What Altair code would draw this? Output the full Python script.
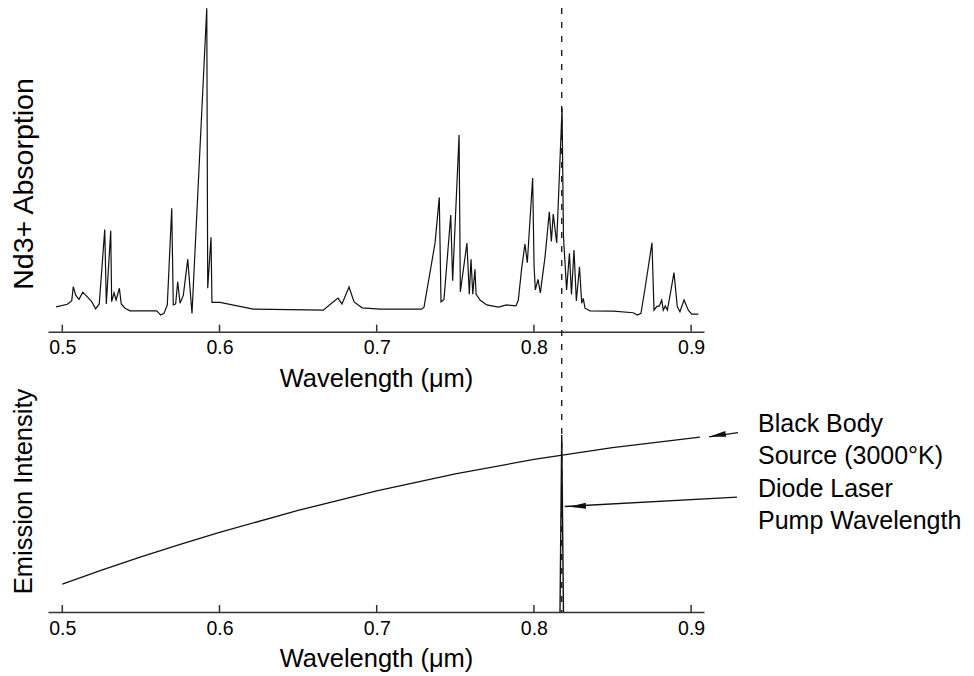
import altair as alt
import pandas as pd

FONT = "Liberation Sans"
INK = "#111111"
AXC = "#333333"

# ---------------- data ----------------
x_ticks = [0.5, 0.6, 0.7, 0.8, 0.9]

abs_lam = [0.4960, 0.5032, 0.5060, 0.5070, 0.5085, 0.5106, 0.5130, 0.5155, 0.5187, 0.5212,
           0.5235, 0.5270, 0.5280, 0.5308, 0.5314, 0.5329, 0.5342, 0.5363, 0.5375, 0.5399,
           0.5431, 0.5601, 0.5626, 0.5647, 0.5668, 0.5696, 0.5706, 0.5721, 0.5734, 0.5749,
           0.5770, 0.5798, 0.5825, 0.5919, 0.5925, 0.5946, 0.5952, 0.6003, 0.6215, 0.6660,
           0.6722, 0.6754, 0.6779, 0.6824, 0.6856, 0.6907, 0.7021, 0.7286, 0.7301, 0.7371,
           0.7398, 0.7409, 0.7428, 0.7471, 0.7483, 0.7524, 0.7532, 0.7574, 0.7589, 0.7600,
           0.7611, 0.7625, 0.7632, 0.7657, 0.7700, 0.7774, 0.7827, 0.7886, 0.7901, 0.7922,
           0.7943, 0.7958, 0.7992, 0.8001, 0.8009, 0.8026, 0.8041, 0.8071, 0.8098, 0.8111,
           0.8123, 0.8145, 0.8179, 0.8188, 0.8208, 0.8226, 0.8239, 0.8255, 0.8270, 0.8290,
           0.8304, 0.8314, 0.8325, 0.8357, 0.8505, 0.8632, 0.8658, 0.8681, 0.8707, 0.8751,
           0.8764, 0.8781, 0.8798, 0.8813, 0.8823, 0.8836, 0.8849, 0.8870, 0.8891, 0.8912,
           0.8929, 0.8955, 0.8982, 0.9004, 0.9046]
abs_val = [0.076, 0.084, 0.095, 0.138, 0.112, 0.099, 0.121, 0.109, 0.092, 0.070,
           0.085, 0.313, 0.085, 0.309, 0.092, 0.119, 0.097, 0.133, 0.085, 0.072,
           0.064, 0.064, 0.051, 0.056, 0.082, 0.378, 0.082, 0.085, 0.153, 0.087,
           0.112, 0.222, 0.056, 0.990, 0.133, 0.289, 0.090, 0.090, 0.069, 0.066,
           0.091, 0.103, 0.085, 0.137, 0.091, 0.073, 0.069, 0.069, 0.075, 0.271,
           0.411, 0.091, 0.099, 0.357, 0.156, 0.602, 0.122, 0.271, 0.115, 0.222,
           0.115, 0.191, 0.115, 0.097, 0.082, 0.075, 0.082, 0.079, 0.097, 0.194,
           0.268, 0.211, 0.470, 0.201, 0.128, 0.160, 0.119, 0.230, 0.367, 0.276,
           0.360, 0.272, 0.684, 0.291, 0.128, 0.240, 0.114, 0.250, 0.094, 0.199,
           0.087, 0.102, 0.072, 0.064, 0.063, 0.058, 0.051, 0.056, 0.133, 0.272,
           0.066, 0.077, 0.079, 0.097, 0.066, 0.079, 0.066, 0.122, 0.181, 0.077,
           0.061, 0.097, 0.066, 0.054, 0.054]

bb_lam = [0.500, 0.525, 0.550, 0.575, 0.600, 0.650, 0.700, 0.750, 0.800, 0.850, 0.9056]
bb_val = [0.158, 0.236, 0.312, 0.382, 0.450, 0.574, 0.684, 0.780, 0.862, 0.929, 0.988]

laser_lam = [0.8166, 0.8177, 0.8188]
laser_val = [0.0, 1.0, 0.0]

pump_lam = [0.8177]

arrow_id = ["bb", "bb", "laser", "laser"]
arrow_k = [0, 1, 0, 1]
arrow_lam = [0.9298, 0.9114, 0.9292, 0.8196]
arrow_val = [1.013, 0.990, 0.649, 0.596]

head_lam = [0.9167, 0.8277]
head_val = [0.998, 0.598]
head_angle = [350.2, 356.8]

label_bb = "Black Body\nSource (3000°K)"
label_laser = "Diode Laser\nPump Wavelength"
x_title = "Wavelength (μm)"
y_title_top = "Nd3+ Absorption"
y_title_bottom = "Emission Intensity"

df_abs = pd.DataFrame({"lam": abs_lam, "A": abs_val})
df_ticks = pd.DataFrame({"lam": x_ticks})
df_bb = pd.DataFrame({"lam": bb_lam, "E": bb_val})
df_laser = pd.DataFrame({"lam": laser_lam, "E": laser_val})
df_pump = pd.DataFrame({"lam": pump_lam})
df_arrow = pd.DataFrame({"id": arrow_id, "k": arrow_k, "lam": arrow_lam, "E": arrow_val})
df_head = pd.DataFrame({"lam": head_lam, "E": head_val, "ang": head_angle})
df_one = pd.DataFrame({"k": [0]})

# ---------------- layout ----------------
W, H = 656, 604
TOP_AXIS = 323.7
BOT_AXIS = 604

x_scale = alt.Scale(domain=[0.4909, 0.9082], nice=False, zero=False)
y_top_scale = alt.Scale(domain=[0, 1], range=[TOP_AXIS, -3], nice=False, zero=False)
y_bot_scale = alt.Scale(domain=[0, 1], range=[BOT_AXIS, 427], nice=False, zero=False)


def x_axis(offset):
    return alt.Axis(orient="bottom", offset=offset, values=x_ticks, format=".1f",
                    ticks=False, tickSize=0, grid=False,
                    domainColor=AXC, domainWidth=1.5,
                    labelFont=FONT, labelFontSize=19.5, labelColor="black",
                    labelPadding=7, labelFlush=False, labelOverlap=False,
                    title=x_title, titleFont=FONT, titleFontSize=25.5,
                    titleFontWeight="normal", titleColor="black",
                    titleBaseline="alphabetic", titleY=54.3)


def y_axis(title, ty, size):
    return alt.Axis(orient="left", domain=False, ticks=False, labels=False, grid=False,
                    title=title, titleFont=FONT, titleFontSize=size,
                    titleFontWeight="normal", titleColor="black",
                    titleAngle=270, titleAlign="center", titleBaseline="middle",
                    titleX=-25, titleY=ty)


x_axis_top = x_axis(TOP_AXIS - H)
x_axis_bot = x_axis(0)
y_axis_top = y_axis(y_title_top, 175.5, 28.5)
y_axis_bot = y_axis(y_title_bottom, 483, 25.5)

# ---------------- top panel ----------------
top_line = alt.Chart(df_abs).mark_line(color=INK, strokeWidth=1.2).encode(
    x=alt.X("lam:Q", scale=x_scale, axis=x_axis_top),
    y=alt.Y("A:Q", scale=y_top_scale, axis=y_axis_top),
)
top_ticks = alt.Chart(df_ticks).mark_rule(color=AXC, strokeWidth=1.5).encode(
    x=alt.X("lam:Q", scale=x_scale, axis=x_axis_top),
    y=alt.value(TOP_AXIS),
    y2=alt.value(TOP_AXIS - 7),
)
top = alt.layer(top_line, top_ticks)

# ---------------- bottom panel ----------------
bb_line = alt.Chart(df_bb).mark_line(color=INK, strokeWidth=1.3).encode(
    x=alt.X("lam:Q", scale=x_scale, axis=x_axis_bot),
    y=alt.Y("E:Q", scale=y_bot_scale, axis=y_axis_bot),
)
laser_line = alt.Chart(df_laser).mark_line(color=INK, strokeWidth=1.4).encode(
    x=alt.X("lam:Q", scale=x_scale, axis=x_axis_bot),
    y=alt.Y("E:Q", scale=y_bot_scale, axis=y_axis_bot),
)
pump_rule = alt.Chart(df_pump).mark_rule(color=INK, strokeWidth=1.3, strokeDash=[6, 8]).encode(
    x=alt.X("lam:Q", scale=x_scale, axis=x_axis_bot),
    y=alt.value(0),
    y2=alt.value(BOT_AXIS),
)
bot_ticks = alt.Chart(df_ticks).mark_rule(color=AXC, strokeWidth=1.5).encode(
    x=alt.X("lam:Q", scale=x_scale, axis=x_axis_bot),
    y=alt.value(BOT_AXIS),
    y2=alt.value(BOT_AXIS - 7),
)
arrow_lines = alt.Chart(df_arrow).mark_line(color=INK, strokeWidth=1.3).encode(
    x=alt.X("lam:Q", scale=x_scale, axis=x_axis_bot),
    y=alt.Y("E:Q", scale=y_bot_scale, axis=y_axis_bot),
    detail="id:N",
    order=alt.Order("k:Q"),
)
arrow_heads = alt.Chart(df_head).mark_point(
    shape="M -1 0 L 1 -0.35 L 1 0.35 Z", filled=True, size=289,
    color=INK, opacity=1, strokeWidth=0,
).encode(
    x=alt.X("lam:Q", scale=x_scale, axis=x_axis_bot),
    y=alt.Y("E:Q", scale=y_bot_scale, axis=y_axis_bot),
    angle=alt.Angle("ang:Q", scale=None),
)
text_bb = alt.Chart(df_one).mark_text(
    align="left", baseline="alphabetic", font=FONT, fontSize=25, color="black",
    lineBreak="\n", lineHeight=32.5,
).encode(x=alt.value(710), y=alt.value(423.7), text=alt.value(label_bb))
text_laser = alt.Chart(df_one).mark_text(
    align="left", baseline="alphabetic", font=FONT, fontSize=25, color="black",
    lineBreak="\n", lineHeight=32.5,
).encode(x=alt.value(710), y=alt.value(488.7), text=alt.value(label_laser))

bottom = alt.layer(bb_line, laser_line, pump_rule, bot_ticks, arrow_lines, arrow_heads,
                   text_bb, text_laser)

chart = (
    alt.layer(top, bottom)
    .resolve_scale(x="independent", y="independent")
    .resolve_axis(x="independent", y="independent")
    .properties(
        width=W, height=H,
        padding={"left": 40, "top": 0, "right": 262, "bottom": 64},
        autosize=alt.AutoSizeParams(type="none"),
        background="white",
    )
    .configure_view(stroke=None)
)

chart.save("out.html", embed_options={"renderer": "svg", "actions": False})
